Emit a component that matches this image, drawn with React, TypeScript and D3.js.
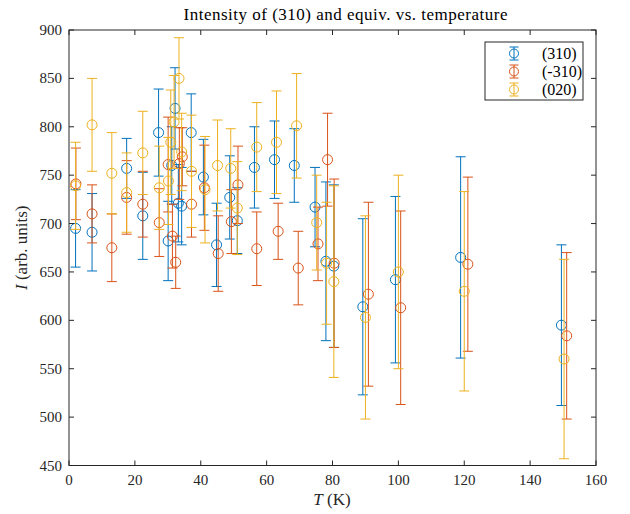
import React from "react";
import * as d3 from "d3";

// (310)
const tempA = [2, 7, 17.5, 22.4, 27.2, 30.1, 31.2, 32.2, 33.2, 34.2, 37.1, 40.8, 44.8, 48.8, 51.1, 56.3, 62.4, 68.4, 74.7, 78, 80.4, 89.2, 99.1, 118.9, 149.5];
const valA = [695, 691, 757, 708, 794, 682, 760, 819, 721, 718, 794, 748, 678, 727, 703, 758, 766, 760, 717, 661, 656, 614, 642, 665, 595];
const errA = [40, 40, 31, 45, 45, 41, 40, 42, 40, 40, 40, 39, 43, 43, 34, 42, 40, 38, 41, 82, 84, 91, 86, 104, 83];

// (-310)
const tempB = [2.1, 7, 13, 17.5, 22.4, 27.4, 30.1, 31.4, 32.4, 33.5, 34.4, 37.2, 41.1, 45.3, 49.3, 51.3, 57, 63.5, 69.6, 75.6, 78.5, 80.5, 90.9, 100.7, 121.1, 151.1];
const valB = [741, 710, 675, 727, 720, 701, 761, 687, 660, 762, 769, 720, 737, 669, 702, 740, 674, 692, 654, 679, 766, 659, 627, 613, 658, 584];
const errB = [37, 30, 35, 38, 34, 35, 49, 33, 27, 37, 30, 34, 44, 39, 33, 40, 38, 29, 38, 38, 48, 87, 95, 100, 90, 86];

// (020)
const tempC = [2, 7, 13, 17.5, 22.4, 27.4, 30.2, 30.9, 31.9, 33.4, 34.2, 37.2, 41.3, 45.1, 49.1, 51.1, 57, 63, 69.1, 75.2, 78.2, 80.4, 90, 100, 120, 150.3];
const valC = [739, 802, 752, 732, 773, 737, 744, 784, 805, 850, 774, 754, 735, 760, 757, 716, 779, 784, 801, 701, 659, 640, 603, 650, 630, 560];
const errC = [45, 48, 42, 41, 43, 43, 45, 54, 48, 42, 40, 58, 55, 47, 41, 48, 46, 53, 54, 49, 63, 99, 105, 100, 103, 103];

const seriesNames = ["(310)", "(-310)", "(020)"];
const seriesColors = ["#0072BD", "#D95319", "#EDB120"];
const xTicks = [0, 20, 40, 60, 80, 100, 120, 140, 160];
const yTicks = [450, 500, 550, 600, 650, 700, 750, 800, 850, 900];

const W = 630, H = 514;
const L = 69, R = 596, T = 30, B = 465.5;
const FONT = '"Liberation Serif", "Times New Roman", serif';
const AX = "#262626";

export default function App() {
  const x = d3.scaleLinear().domain([0, 160]).range([L, R]);
  const y = d3.scaleLinear().domain([450, 900]).range([B, T]);
  const series = [
    { t: tempA, v: valA, e: errA },
    { t: tempB, v: valB, e: errB },
    { t: tempC, v: valC, e: errC },
  ];
  const cap = 5;
  const r = 5;
  const tl = 5;
  const ts = { fontFamily: FONT };
  return (
    <svg width={W} height={H} style={{ position: "absolute", left: 0, top: 0, background: "#fff" }}>
      <rect x={0} y={0} width={W} height={H} fill="#fff" />
      {series.map((s, si) => (
        <g key={si} stroke={seriesColors[si]} fill="none" strokeWidth={1}>
          {s.t.map((t, i) => {
            const cx = x(t);
            const y1 = y(s.v[i] + s.e[i]);
            const y2 = y(s.v[i] - s.e[i]);
            const cy = y(s.v[i]);
            return (
              <g key={i}>
                <line x1={cx} x2={cx} y1={y1} y2={y2} />
                <line x1={cx - cap} x2={cx + cap} y1={y1} y2={y1} />
                <line x1={cx - cap} x2={cx + cap} y1={y2} y2={y2} />
                <circle cx={cx} cy={cy} r={r} />
              </g>
            );
          })}
        </g>
      ))}
      {/* axes box */}
      <rect x={L} y={T} width={R - L} height={B - T} fill="none" stroke={AX} strokeWidth={1} />
      {xTicks.map((t) => (
        <g key={"x" + t}>
          <line x1={x(t)} x2={x(t)} y1={B} y2={B - tl} stroke={AX} />
          <line x1={x(t)} x2={x(t)} y1={T} y2={T + tl} stroke={AX} />
          <text x={x(t)} y={B + 19} textAnchor="middle" fontSize={15} fill={AX} style={ts}>{t}</text>
        </g>
      ))}
      {yTicks.map((t) => (
        <g key={"y" + t}>
          <line x1={L} x2={L + tl} y1={y(t)} y2={y(t)} stroke={AX} />
          <line x1={R} x2={R - tl} y1={y(t)} y2={y(t)} stroke={AX} />
          <text x={L - 7} y={y(t) + 5} textAnchor="end" fontSize={15} fill={AX} style={ts}>{t}</text>
        </g>
      ))}
      <text x={345.5} y={20} textAnchor="middle" fontSize={17} fill="#000" style={ts} textLength={324} lengthAdjust="spacing">Intensity of (310) and equiv. vs. temperature</text>
      <text x={332} y={505} textAnchor="middle" fontSize={17} fill={AX} style={ts}>
        <tspan fontStyle="italic">T</tspan> (K)
      </text>
      <text transform={`translate(27,${(T + B) / 2}) rotate(-90)`} textAnchor="middle" fontSize={17} fill={AX} style={ts}>
        <tspan fontStyle="italic">I</tspan> (arb. units)
      </text>
      {/* legend */}
      <rect x={485} y={42} width={98} height={58} fill="#fff" stroke={AX} strokeWidth={1} />
      {seriesNames.map((n, i) => {
        const ly = 53.5 + i * 18;
        const lx = 514;
        return (
          <g key={n}>
            <g stroke={seriesColors[i]} fill="none">
              <line x1={lx} x2={lx} y1={ly - 6.5} y2={ly + 6.5} />
              <line x1={lx - 4.5} x2={lx + 4.5} y1={ly - 6.5} y2={ly - 6.5} />
              <line x1={lx - 4.5} x2={lx + 4.5} y1={ly + 6.5} y2={ly + 6.5} />
              <circle cx={lx} cy={ly} r={4.5} />
            </g>
            <text x={542} y={ly + 5} fontSize={16} fill="#000" style={ts}>{n}</text>
          </g>
        );
      })}
    </svg>
  );
}
